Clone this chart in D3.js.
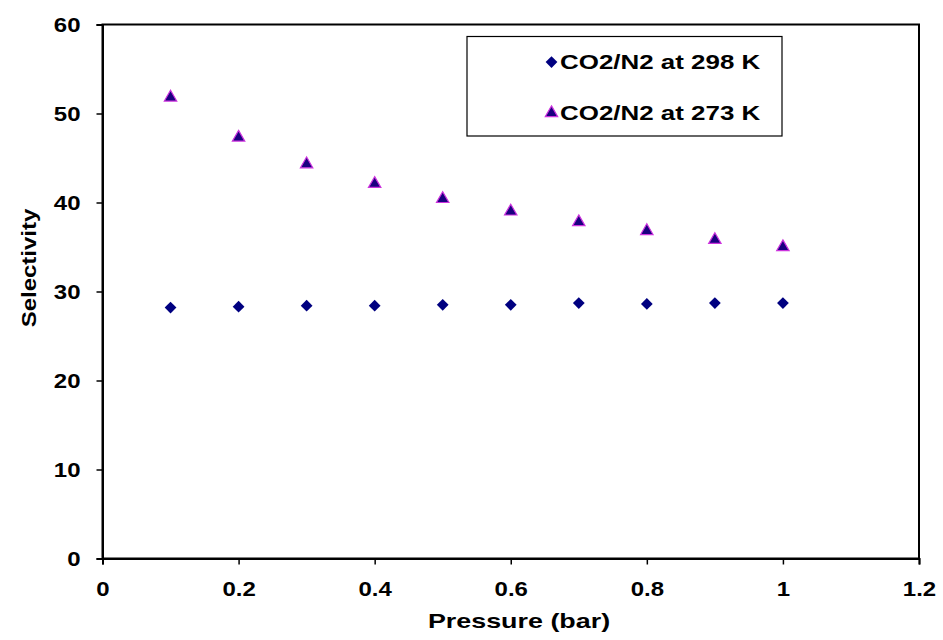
<!DOCTYPE html>
<html>
<head>
<meta charset="utf-8">
<script src="https://cdn.jsdelivr.net/npm/d3@7"></script>
<style>
  body { margin: 0; background: #fff; }
  svg text { font-family: "Liberation Sans", Arial, sans-serif; font-weight: bold; fill: #000; }
</style>
</head>
<body>
<svg id="chart" width="943" height="640"></svg>
<script>
const pressure = [0.1, 0.2, 0.3, 0.4, 0.5, 0.6, 0.7, 0.8, 0.9, 1.0];
const sel298 = [28.2, 28.3, 28.4, 28.4, 28.5, 28.5, 28.7, 28.6, 28.7, 28.7];
const sel273 = [51.8, 47.3, 44.3, 42.1, 40.4, 39.0, 37.8, 36.8, 35.8, 35.0];
const xTicks = [0, 0.2, 0.4, 0.6, 0.8, 1, 1.2];
const yTicks = [0, 10, 20, 30, 40, 50, 60];
const seriesNames = ["CO2/N2 at 298 K", "CO2/N2 at 273 K"];

const margin = { top: 24.5, right: 24, bottom: 81.5, left: 102.5 };
const width = 943, height = 640;
const stretch = 1.17; // reference text is wider than normal

const svg = d3.select("#chart");

const x = d3.scaleLinear().domain([0, 1.2]).range([margin.left, width - margin.right]);
const y = d3.scaleLinear().domain([0, 60]).range([height - margin.bottom, margin.top]);

// frame
svg.append("rect")
  .attr("x", x(0)).attr("y", y(60))
  .attr("width", x(1.2) - x(0)).attr("height", y(0) - y(60))
  .attr("fill", "none").attr("stroke", "#000").attr("stroke-width", 2);

const xAxis = svg.append("g")
  .attr("transform", `translate(0,${y(0)})`)
  .call(d3.axisBottom(x).tickValues(xTicks).tickSize(6).tickPadding(17).tickFormat(d3.format("")));

const yAxis = svg.append("g")
  .attr("transform", `translate(${x(0)},0)`)
  .call(d3.axisLeft(y).tickValues(yTicks).tickSize(6).tickPadding(16));

[xAxis, yAxis].forEach(g => {
  g.select(".domain").attr("stroke-width", 2);
  g.selectAll(".tick line").attr("stroke-width", 1.5);
  g.selectAll(".tick text").attr("font-size", 20.5).attr("fill", "#000")
    .attr("font-family", "Liberation Sans, Arial, sans-serif").attr("font-weight", "bold")
    .attr("transform", `scale(${stretch},1)`);
});
yAxis.selectAll(".tick text").attr("x", -22 / stretch);

svg.append("text")
  .attr("transform", "translate(519,628) scale(1.28,1)")
  .attr("text-anchor", "middle").attr("font-size", 21)
  .text("Pressure (bar)");

svg.append("text")
  .attr("transform", "translate(36,268) rotate(-90) scale(1.2,1)")
  .attr("text-anchor", "middle").attr("font-size", 20)
  .text("Selectivity");

const diamond = d3.symbol().type(d3.symbolDiamond2).size(88);
const triangle = d3.symbol().type(d3.symbolTriangle2).size(110);

svg.append("g").selectAll("path")
  .data(pressure.map((p, i) => [p, sel298[i]]))
  .join("path")
  .attr("d", diamond)
  .attr("transform", d => `translate(${x(d[0])},${y(d[1])})`)
  .attr("fill", "#000080");

svg.append("g").selectAll("path")
  .data(pressure.map((p, i) => [p, sel273[i]]))
  .join("path")
  .attr("d", triangle)
  .attr("transform", d => `translate(${x(d[0])},${y(d[1])})`)
  .attr("fill", "#1a0080")
  .attr("stroke", "#cc33dd")
  .attr("stroke-width", 1.2);

// legend
const legend = svg.append("g");
legend.append("rect")
  .attr("x", 467).attr("y", 36.5).attr("width", 315).attr("height", 99.5)
  .attr("fill", "#fff").attr("stroke", "#000").attr("stroke-width", 1.2);

const legendRows = [
  { name: seriesNames[0], y: 62, sym: diamond, fill: "#000080", stroke: "none" },
  { name: seriesNames[1], y: 113, sym: triangle, fill: "#1a0080", stroke: "#cc33dd" }
];
legendRows.forEach(r => {
  legend.append("path")
    .attr("d", r.sym)
    .attr("transform", `translate(551.5,${r.y})`)
    .attr("fill", r.fill).attr("stroke", r.stroke).attr("stroke-width", 1.2);
  legend.append("text")
    .attr("transform", `translate(560,${r.y + 6.5}) scale(1.33,1)`)
    .attr("font-size", 19.5)
    .text(r.name);
});
</script>
</body>
</html>
